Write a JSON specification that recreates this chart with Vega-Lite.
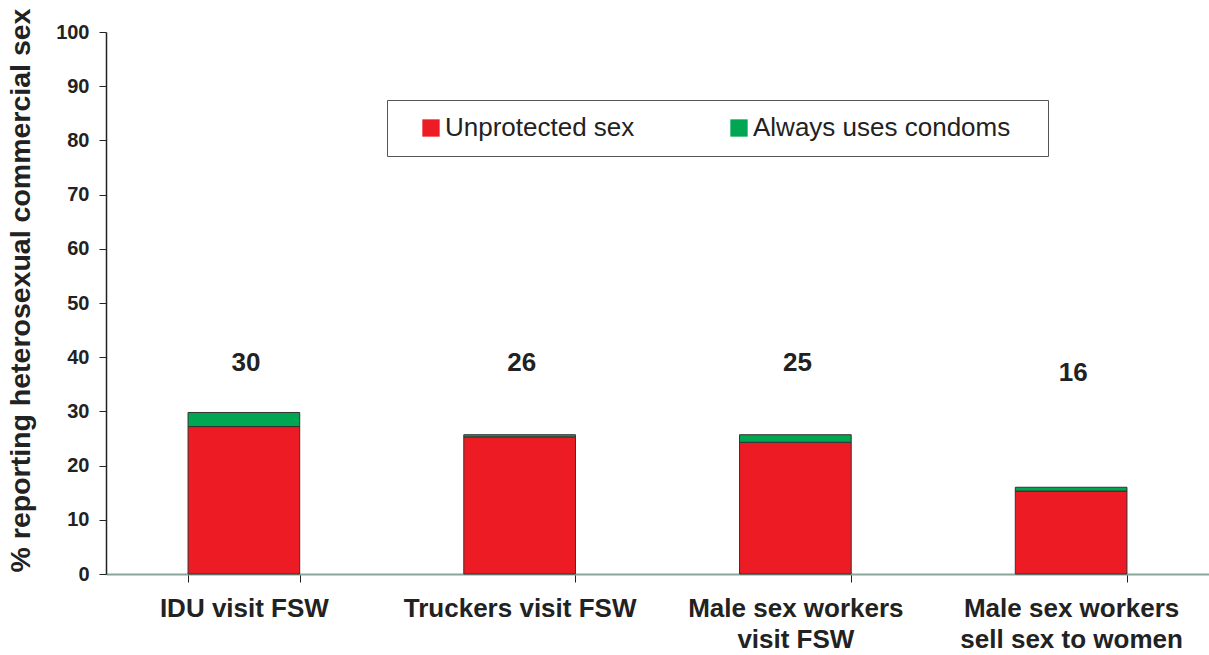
{
  "$schema": "https://vega.github.io/schema/vega-lite/v6.json",
  "autosize": "none",
  "width": 1103,
  "height": 542,
  "padding": {"left": 106, "top": 32, "right": 0, "bottom": 81},
  "background": "white",
  "config": {
    "view": {"stroke": null},
    "font": "Liberation Sans"
  },
  "datasets": {
    "bars": [
      {"group": "IDU visit FSW", "type": "Unprotected sex", "pct": 27.2},
      {"group": "IDU visit FSW", "type": "Always uses condoms", "pct": 2.6},
      {"group": "Truckers visit FSW", "type": "Unprotected sex", "pct": 25.3},
      {"group": "Truckers visit FSW", "type": "Always uses condoms", "pct": 0.4},
      {"group": "Male sex workers visit FSW", "type": "Unprotected sex", "pct": 24.3},
      {"group": "Male sex workers visit FSW", "type": "Always uses condoms", "pct": 1.4},
      {"group": "Male sex workers sell sex to women", "type": "Unprotected sex", "pct": 15.3},
      {"group": "Male sex workers sell sex to women", "type": "Always uses condoms", "pct": 0.7}
    ],
    "labels": [
      {"group": "IDU visit FSW", "total": 30},
      {"group": "Truckers visit FSW", "total": 26},
      {"group": "Male sex workers visit FSW", "total": 25},
      {"group": "Male sex workers sell sex to women", "total": 16}
    ]
  },
  "encoding": {
    "x": {
      "field": "group",
      "type": "nominal",
      "sort": null,
      "scale": {"paddingInner": 0.595, "paddingOuter": 0.2975},
      "axis": {
        "title": null,
        "labelAngle": 0,
        "labelFont": "Liberation Sans",
        "labelFontWeight": "bold",
        "labelFontSize": 26,
        "labelColor": "#222222",
        "labelPadding": 13,
        "labelLineHeight": 31,
        "labelLimit": 400,
        "labelExpr": "datum.value == 'Male sex workers visit FSW' ? ['Male sex workers', 'visit FSW'] : datum.value == 'Male sex workers sell sex to women' ? ['Male sex workers', 'sell sex to women'] : datum.value",
        "tickBand": "extent",
        "tickSize": 8,
        "tickColor": "#222222",
        "domainColor": "#8aa698",
        "domainWidth": 2
      }
    }
  },
  "layer": [
    {
      "data": {"name": "bars"},
      "mark": {"type": "bar", "stroke": "#333333", "strokeWidth": 1},
      "encoding": {
        "y": {
          "field": "pct",
          "type": "quantitative",
          "stack": "zero",
          "scale": {"domain": [0, 100], "nice": false},
          "axis": {
            "title": "% reporting heterosexual commercial sex",
            "titleFont": "Liberation Sans",
            "titleFontWeight": "bold",
            "titleFontSize": 28.5,
            "titleColor": "#222222",
            "titleBaseline": "alphabetic",
            "titleX": -77,
            "titleY": 258,
            "values": [0, 10, 20, 30, 40, 50, 60, 70, 80, 90, 100],
            "grid": false,
            "labelFont": "Liberation Sans",
            "labelFontWeight": "bold",
            "labelFontSize": 20,
            "labelColor": "#222222",
            "labelPadding": 10,
            "tickSize": 7,
            "tickColor": "#222222",
            "domainColor": "#222222",
            "domainWidth": 1.5
          }
        },
        "color": {
          "field": "type",
          "type": "nominal",
          "sort": ["Unprotected sex", "Always uses condoms"],
          "scale": {"domain": ["Unprotected sex", "Always uses condoms"], "range": ["#ED1C24", "#00A651"]},
          "legend": {
            "title": "\u00a0",
            "titleOrient": "right",
            "titlePadding": 23,
            "titleFontSize": 26,
            "orient": "none",
            "direction": "horizontal",
            "legendX": 281,
            "legendY": 68,
            "padding": 15,
            "symbolOffset": 16,
            "strokeColor": "#555555",
            "fillColor": "white",
            "symbolType": "square",
            "symbolSize": 300,
            "symbolStrokeWidth": 0,
            "labelFont": "Liberation Sans",
            "labelFontSize": 26,
            "labelColor": "#222222",
            "labelOffset": 1,
            "columnPadding": 75,
            "labelLimit": 420
          }
        },
        "order": {"field": "type", "sort": "descending"}
      }
    },
    {
      "data": {"name": "labels"},
      "transform": [{"filter": "datum.total != 16"}],
      "mark": {"type": "text", "font": "Liberation Sans", "fontWeight": "bold", "fontSize": 26, "color": "#222222", "baseline": "middle", "dx": 2},
      "encoding": {
        "y": {"datum": 39},
        "text": {"field": "total", "type": "quantitative"}
      }
    },
    {
      "data": {"name": "labels"},
      "transform": [{"filter": "datum.total == 16"}],
      "mark": {"type": "text", "font": "Liberation Sans", "fontWeight": "bold", "fontSize": 26, "color": "#222222", "baseline": "middle", "dx": 2},
      "encoding": {
        "y": {"datum": 37},
        "text": {"field": "total", "type": "quantitative"}
      }
    }
  ]
}
